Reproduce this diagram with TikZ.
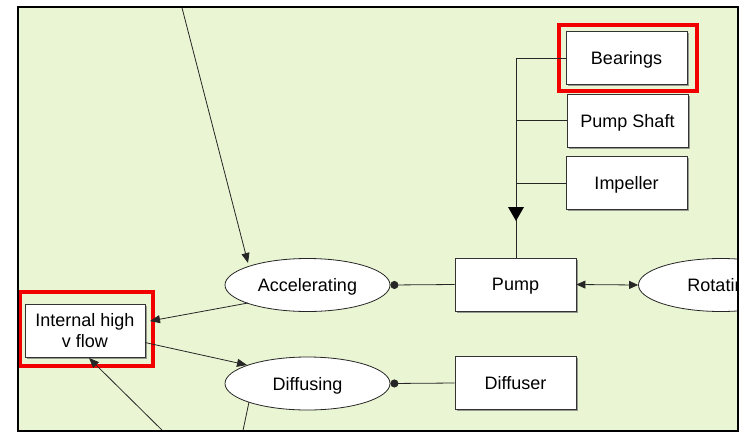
\documentclass[tikz,border=0pt]{standalone}
\usepackage{fontspec}
\setmainfont{Liberation Sans}
\usetikzlibrary{shapes.geometric,arrows.meta,shadows}
\definecolor{canvas}{HTML}{EAF5D3}
\definecolor{hilite}{HTML}{F20000}
\tikzset{
  every node/.style={font=\fontsize{18}{21}\selectfont},
  boxnode/.style={draw=black!80, fill=white, line width=0.9pt, minimum width=121pt, minimum height=53pt, inner sep=0pt, align=center,
    drop shadow={shadow xshift=1.6pt, shadow yshift=-1.6pt, fill=black!55, opacity=0.7}},
  oneline/.style={text depth=0pt},
  oval/.style={ellipse, draw=black!85, fill=white, line width=0.8pt, minimum width=165pt, minimum height=53pt, inner sep=0pt, text depth=0pt},
  link/.style={draw=black!85, line width=0.8pt},
  flow/.style={link, -{Triangle[length=10pt, width=8pt]}},
  both/.style={link, {Triangle[length=9pt, width=8pt]}-{Triangle[length=9pt, width=8pt]}},
  dotlink/.style={link, {Circle[length=8pt]}-},
  mark box/.style={draw=hilite, line width=4pt},
}
\begin{document}
\begin{tikzpicture}[x=1pt, y=-1pt]
\useasboundingbox (0,0) rectangle (747,432);
\fill[white] (0,0) rectangle (747,432);
\fill[canvas] (18,7) rectangle (738,431);
\begin{scope}
\clip (18,7) rectangle (738,431);
% component boxes
\node[boxnode, oneline] (bearings) at (626.5,58) {Bearings};
\node[boxnode, oneline] (shaft) at (627.5,120.5) {Pump Shaft};
\node[boxnode, oneline] (impeller) at (626.5,183) {Impeller};
\node[boxnode, oneline] (pump) at (515.5,284.5) {Pump};
\node[boxnode, oneline] (diffuser) at (515.5,383) {Diffuser};
\node[boxnode, minimum width=120pt] (internal) at (85,330.5) {Internal high\\v flow};
% functions
\node[oval] (accel) at (307.5,285) {Accelerating};
\node[oval] (diffusing) at (307.5,383.5) {Diffusing};
\node[oval] (rotating) at (721,285) {Rotating};
% highlights
\draw[mark box] (559,25) rectangle (697,91);
\draw[mark box] (19.5,292) rectangle (153,365.5);
% connector ends
\coordinate (topin) at (180,0);
\coordinate (botin) at (172,440);
\coordinate (botout) at (241,440);
\coordinate (accTop) at (248,263);
\coordinate (accLow) at (248,303);
\coordinate (intIn) at (150,321);
\coordinate (intOut) at (145,342.5);
\coordinate (difTop) at (247,365);
\coordinate (intBot) at (89,358);
\coordinate (difLow) at (249,402);
% parts feeding the pump
\coordinate (bus) at (516,58);
\draw[link] (bearings.west) -- (bus) -- (pump.north -| bus);
\draw[link] (shaft.west) -- (shaft.west -| bus);
\draw[link] (impeller.west) -- (impeller.west -| bus);
\fill[black] (508,207) -- (524,207) -- (516,221) -- cycle;
% function links
\draw[dotlink] (accel.east) -- (pump.west);
\draw[dotlink] (diffusing.east) -- (diffuser.west);
\draw[both] (pump.east) -- (rotating.west);
\draw[flow] (topin) -- (accTop);
\draw[flow] (accLow) -- (intIn);
\draw[flow] (intOut) -- (difTop);
\draw[flow] (botin) -- (intBot);
\draw[link] (difLow) -- (botout);
\end{scope}
\draw[line width=2pt] (18,7) rectangle (738,431);
\end{tikzpicture}
\end{document}
